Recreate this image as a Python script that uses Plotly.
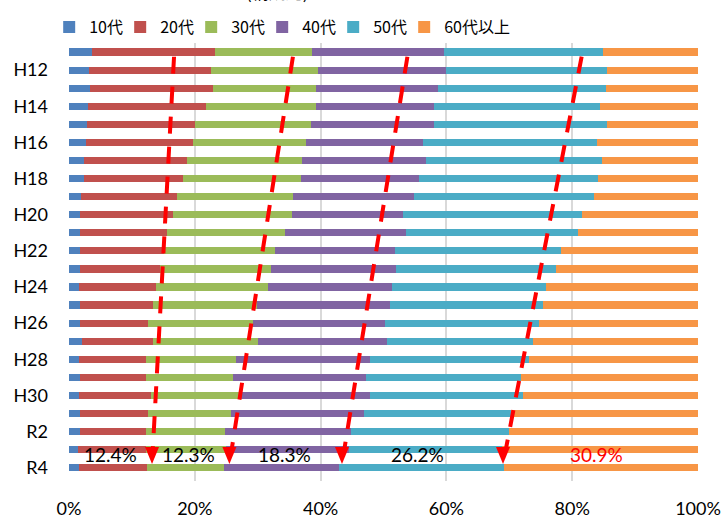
import plotly.graph_objects as go

# ---- data (percent share by age group) ----
years = ["H11", "H12", "H13", "H14", "H15", "H16", "H17", "H18", "H19", "H20",
         "H21", "H22", "H23", "H24", "H25", "H26", "H27", "H28", "H29", "H30",
         "R1", "R2", "R3", "R4"]
tick_years = ["H12", "H14", "H16", "H18", "H20", "H22", "H24", "H26", "H28", "H30", "R2", "R4"]

age_10s = [3.7, 3.2, 3.4, 3.0, 2.9, 2.7, 2.4, 2.4, 1.9, 1.7, 1.7, 1.7, 1.7, 1.6, 1.7, 1.7, 2.0, 1.6, 1.7, 1.6, 1.7, 1.7, 1.4, 1.6]
age_20s = [19.5, 19.3, 19.5, 18.8, 17.1, 17.0, 16.3, 15.8, 15.3, 14.9, 13.8, 13.4, 12.7, 12.2, 11.6, 10.9, 11.3, 10.7, 10.5, 11.5, 10.9, 10.6, 10.9, 10.8]
age_30s = [15.5, 17.1, 16.3, 17.4, 18.4, 17.9, 18.4, 18.7, 18.4, 18.9, 18.9, 17.7, 17.7, 17.9, 16.6, 16.6, 16.7, 14.3, 13.8, 14.1, 13.2, 12.5, 12.7, 12.3]
age_40s = [20.9, 20.4, 19.4, 18.8, 19.6, 18.6, 19.6, 18.7, 19.3, 17.6, 19.2, 19.0, 19.9, 19.6, 21.1, 21.1, 20.5, 21.3, 21.2, 20.7, 21.1, 20.1, 19.5, 18.3]
age_50s = [25.3, 25.6, 26.7, 26.4, 27.5, 27.8, 28.1, 28.5, 28.5, 28.5, 27.4, 26.4, 25.5, 24.5, 24.3, 24.5, 23.2, 25.3, 24.6, 24.2, 23.4, 25.0, 24.3, 26.2]
age_60plus = [15.1, 14.4, 14.7, 15.6, 14.5, 16.0, 15.2, 15.9, 16.6, 18.4, 19.0, 21.8, 22.5, 24.2, 24.7, 25.2, 26.3, 26.8, 28.2, 27.9, 29.7, 30.1, 31.2, 30.9]

series_names = ["10代", "20代", "30代", "40代", "50代", "60代以上"]
series_values = [age_10s, age_20s, age_30s, age_40s, age_50s, age_60plus]

# R4 callout labels
callout_texts = ["12.4%", "12.3%", "18.3%", "26.2%", "30.9%"]

# ---- styling / annotation geometry ----
colors = ["#4F81BD", "#C0504D", "#9BBB59", "#8064A2", "#4BACC6", "#F79646"]
legend_widths = [26, 26, 26, 26, 26, 80]
callout_x = [6.6, 19.0, 34.2, 55.4, 83.9]
callout_colors = ["black", "black", "black", "black", "#FF0000"]
callout_y = 22.24
arrow_top_x = [16.7, 35.6, 53.8, 81.5]
arrow_tip_x = [13.2, 25.5, 43.4, 69.0]
arrow_top_y = 0.26
arrow_tip_y = 22.79
px_per_cat = 18.23

LAT = "Lato, 'Noto Sans CJK JP', sans-serif"
CJK = "'Noto Sans CJK JP', sans-serif"

fig = go.Figure()
for name, vals, col, lw in zip(series_names, series_values, colors, legend_widths):
    fig.add_trace(go.Bar(
        y=years, x=vals, name=name, orientation="h", legendwidth=lw,
        marker=dict(color=col, line=dict(width=0)),
    ))

shapes = []
for xt, xb in zip(arrow_top_x, arrow_tip_x):
    end_y = arrow_tip_y - 13 / px_per_cat
    frac = (end_y - arrow_top_y) / (arrow_tip_y - arrow_top_y)
    end_x = xt + (xb - xt) * frac
    shapes.append(dict(type="line", xref="x", yref="y", x0=xt, y0=arrow_top_y,
                       x1=end_x, y1=end_y,
                       line=dict(color="#FF0000", width=4, dash="17px,13px")))
    shapes.append(dict(type="path", xref="x", yref="y",
                       xsizemode="pixel", ysizemode="pixel",
                       xanchor=xb, yanchor=arrow_tip_y,
                       path="M-7,17 L7,17 L0,0 Z",
                       fillcolor="#FF0000", line=dict(width=0)))

annotations = []
for t, xx, c in zip(callout_texts, callout_x, callout_colors):
    annotations.append(dict(x=xx, y=callout_y, xref="x", yref="y", text=t,
                            showarrow=False, font=dict(family=LAT, size=19, color=c),
                            xanchor="center", yanchor="middle"))
annotations.append(dict(x=0.278, y=1 + 37 / 438, xref="paper", yref="paper",
                        text="(構成比)", showarrow=False, yanchor="bottom",
                        font=dict(family=CJK, size=17, color="black")))

fig.update_layout(
    width=725, height=518,
    barmode="stack", barnorm="percent", bargap=0.6,
    plot_bgcolor="white", paper_bgcolor="white",
    margin=dict(l=69, r=27, t=43, b=37, autoexpand=False),
    shapes=shapes, annotations=annotations,
    showlegend=True,
    legend=dict(orientation="h", x=-0.0315, xanchor="left", y=1 + 16 / 438,
                yref="paper", yanchor="middle", traceorder="normal",
                font=dict(family=CJK, size=16, color="black"),
                itemwidth=30, bgcolor="rgba(0,0,0,0)"),
    xaxis=dict(range=[0, 100], dtick=20, ticksuffix="%", showgrid=True,
               gridcolor="#D9D9D9", gridwidth=1.5, zeroline=False, showline=False,
               tickfont=dict(family=LAT, size=18, color="black"),
               ticklabelstandoff=15, fixedrange=True),
    yaxis=dict(categoryorder="array", categoryarray=years, autorange="reversed",
               tickmode="array", tickvals=tick_years, ticktext=tick_years,
               showgrid=False, zeroline=False, showline=False,
               tickfont=dict(family=LAT, size=18, color="black"),
               ticklabelstandoff=20),
)

fig.write_html("out.html", config={"displayModeBar": False},
               post_script="document.body.style.margin='0';")
